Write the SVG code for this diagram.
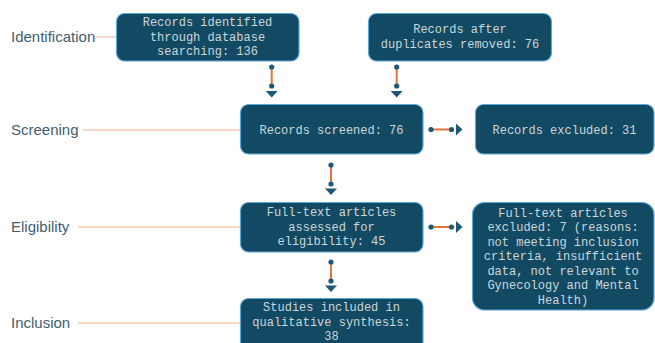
<svg xmlns="http://www.w3.org/2000/svg" width="655" height="343" viewBox="0 0 655 343">
<style>
.box{fill:#124a63;stroke:#5aa8d6;stroke-width:1.2}
.bt{font-family:"Liberation Mono","Courier New",monospace;font-size:12px;fill:#cdd6da;text-anchor:middle}
.lbl{font-family:"Liberation Sans",Arial,sans-serif;font-size:15px;fill:#3f5d70}
.guide{stroke:#f3c8b2;stroke-width:1.3;fill:none}
.ln{stroke:#e8743b;stroke-width:2}
.dot{fill:#1d5878}
.tri{fill:#1d5878}
</style>
<rect width="655" height="343" fill="#ffffff"/>
<g id="labels">
<text class="lbl" x="11" y="42">Identification</text>
<text class="lbl" x="11" y="135">Screening</text>
<text class="lbl" x="11" y="232">Eligibility</text>
<text class="lbl" x="11" y="328">Inclusion</text>
<line class="guide" x1="96" y1="37" x2="117" y2="37"/>
<line class="guide" x1="83" y1="130" x2="240" y2="130"/>
<line class="guide" x1="78" y1="227" x2="240" y2="227"/>
<line class="guide" x1="78" y1="323" x2="240" y2="323"/>
</g>
<g id="n1">
<rect class="box" x="116.5" y="13.5" width="182.5" height="47.5" rx="8"/>
<text class="bt" x="207.5" y="26">Records identified</text>
<text class="bt" x="207.5" y="40.5">through database</text>
<text class="bt" x="207.5" y="55">searching: 136</text>
</g>
<g id="n2">
<rect class="box" x="368.5" y="13.5" width="183" height="47.5" rx="8"/>
<text class="bt" x="460" y="33">Records after</text>
<text class="bt" x="460" y="48">duplicates removed: 76</text>
</g>
<g id="n3">
<rect class="box" x="240.5" y="104.5" width="182.5" height="49.5" rx="8"/>
<text class="bt" x="331.5" y="133.5">Records screened: 76</text>
</g>
<g id="n4">
<rect class="box" x="475.5" y="104.5" width="178.5" height="49.5" rx="8"/>
<text class="bt" x="564.5" y="133.5">Records excluded: 31</text>
</g>
<g id="n5">
<rect class="box" x="240.5" y="202.5" width="182.5" height="49.5" rx="8"/>
<text class="bt" x="331.5" y="216">Full-text articles</text>
<text class="bt" x="331.5" y="230.5">assessed for</text>
<text class="bt" x="331.5" y="245">eligibility: 45</text>
</g>
<g id="n6">
<rect class="box" x="472.5" y="202.5" width="181.5" height="107.5" rx="12"/>
<text class="bt" x="563" y="216.5">Full-text articles</text>
<text class="bt" x="563" y="231">excluded: 7 (reasons:</text>
<text class="bt" x="563" y="245.5">not meeting inclusion</text>
<text class="bt" x="563" y="260">criteria, insufficient</text>
<text class="bt" x="563" y="274.5">data, not relevant to</text>
<text class="bt" x="563" y="289">Gynecology and Mental</text>
<text class="bt" x="563" y="303.5">Health)</text>
</g>
<g id="n7">
<rect class="box" x="240.5" y="298.5" width="182.5" height="55" rx="8"/>
<text class="bt" x="331.5" y="311">Studies included in</text>
<text class="bt" x="331.5" y="325.5">qualitative synthesis:</text>
<text class="bt" x="331.5" y="340">38</text>
</g>
<g id="connectors">
<g>
<line class="ln" x1="271.7" y1="67" x2="271.7" y2="86"/>
<circle class="dot" cx="271.7" cy="67" r="2.6"/><circle class="dot" cx="271.7" cy="86" r="2.6"/>
<polygon class="tri" points="265.7,91 277.7,91 271.7,97.5"/>
</g>
<g>
<line class="ln" x1="396.7" y1="67" x2="396.7" y2="86"/>
<circle class="dot" cx="396.7" cy="67" r="2.6"/><circle class="dot" cx="396.7" cy="86" r="2.6"/>
<polygon class="tri" points="390.7,91 402.7,91 396.7,97.5"/>
</g>
<g>
<line class="ln" x1="331" y1="165" x2="331" y2="184"/>
<circle class="dot" cx="331" cy="165" r="2.6"/><circle class="dot" cx="331" cy="184" r="2.6"/>
<polygon class="tri" points="325,188.5 337,188.5 331,195"/>
</g>
<g>
<line class="ln" x1="331" y1="262" x2="331" y2="281"/>
<circle class="dot" cx="331" cy="262" r="2.6"/><circle class="dot" cx="331" cy="281" r="2.6"/>
<polygon class="tri" points="325,285.5 337,285.5 331,292"/>
</g>
<g>
<line class="ln" x1="431" y1="129.5" x2="451.5" y2="129.5"/>
<circle class="dot" cx="431" cy="129.5" r="2.6"/><circle class="dot" cx="451.5" cy="129.5" r="2.6"/>
<polygon class="tri" points="456,123.5 456,135.5 462.5,129.5"/>
</g>
<g>
<line class="ln" x1="431" y1="227" x2="451.5" y2="227"/>
<circle class="dot" cx="431" cy="227" r="2.6"/><circle class="dot" cx="451.5" cy="227" r="2.6"/>
<polygon class="tri" points="456,221 456,233 462.5,227"/>
</g>
</g>
</svg>
